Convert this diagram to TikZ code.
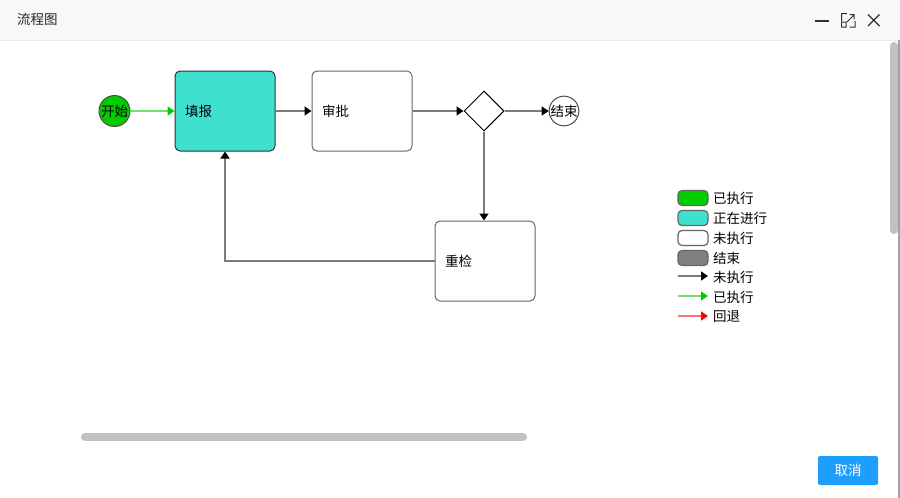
\documentclass[tikz,border=0pt]{standalone}
\usepackage{fontspec}
\setmainfont{Noto Sans CJK SC}
\usetikzlibrary{arrows.meta,shapes.geometric}

\definecolor{linegray}{HTML}{7A7A7A}
\definecolor{boxgray}{HTML}{666666}
\definecolor{donegreen}{HTML}{00CC00}
\definecolor{donelight}{HTML}{6FE06F}
\definecolor{busyturq}{HTML}{40E0D0}
\definecolor{backred}{HTML}{FF0000}
\definecolor{backlight}{HTML}{FF7070}
\definecolor{barbg}{HTML}{F8F8F8}
\definecolor{barline}{HTML}{EBEBEB}
\definecolor{scrollgray}{HTML}{C1C1C1}
\definecolor{btnblue}{HTML}{1E9FFF}
\definecolor{icongray}{HTML}{2F2F3F}

\newcommand{\txt}{\fontsize{13.5}{16}\selectfont}

\tikzset{
  task/.style={draw=boxgray, line width=1pt, rounded corners=5pt, fill=white,
    minimum height=80pt, text width=80pt, inner xsep=10pt, align=left, font=\txt},
  busy/.style={task, fill=busyturq, draw=black!80},
  event/.style={circle, draw=black!70, line width=1pt, minimum size=#1, inner sep=0pt, font=\txt},
  gate/.style={diamond, draw=black, line width=1pt, minimum width=40pt, minimum height=40pt, inner sep=0pt},
  flow/.style={draw=linegray, line width=1.4pt, -{Triangle[length=7pt,width=9pt,color=black]}},
  doneflow/.style={draw=donelight, line width=1.4pt, -{Triangle[length=7pt,width=9pt,color=donegreen]}},
  backflow/.style={draw=backlight, line width=1.4pt, -{Triangle[length=7pt,width=9pt,color=backred]}},
  swatch/.style={draw=boxgray, line width=1.2pt, rounded corners=4pt, minimum width=30pt, minimum height=15pt, inner sep=0pt},
  legend/.style={anchor=west, inner sep=0pt, font=\txt},
  scroll/.style={line width=8pt, line cap=round, draw=scrollgray}
}

\begin{document}
\begin{tikzpicture}[x=1pt,y=-1pt]
\useasboundingbox (0,0) rectangle (900,498);
\fill[white] (0,0) rectangle (900,498);

% title bar
\fill[barbg] (0,0) rectangle (900,40);
\draw[barline] (0,40.5) -- (900,40.5);
\node[anchor=west, inner sep=0pt, font=\txt, text=black!85] (title) at (17,19) {流程图};
\draw[icongray, line width=2pt] (815,20.5) -- (829,20.5);
\draw[icongray, line width=1pt] (841.5,21) -- (841.5,13.5) -- (847,13.5)
  (849.5,27) -- (855,27) -- (855,21)
  (841.5,22) rectangle (846,27)
  (847,22) -- (854,15) (849.5,14.5) -- (854,14.5) -- (854,19);
\draw[icongray, line width=1.3pt] (868,14.5) -- (879.5,26) (879.5,14.5) -- (868,26);

% flow
\node[event=31pt, fill=donegreen] (start) at (114.5,111) {开始};
\node[busy] (fill) at (225,111) {填报};
\node[task] (approve) at (362,111) {审批};
\node[gate] (split) at (484,111) {};
\node[event=29pt, fill=white] (finish) at (564,111) {结束};
\node[task] (recheck) at (485,261) {重检};

\draw[doneflow] (start) -- (fill);
\draw[flow] (fill) -- (approve);
\draw[flow] (approve) -- (split);
\draw[flow] (split) -- (finish);
\draw[flow] (split.south) -- (split.south |- recheck.north);
\draw[flow] (recheck.west) -| (fill.south);

% legend
\node[swatch, fill=donegreen] (sw1) at (693,198) {};
\node[swatch, fill=busyturq] (sw2) at (693,218) {};
\node[swatch, fill=white] (sw3) at (693,238) {};
\node[swatch, fill=gray] (sw4) at (693,258) {};
\node[legend] (lg1) at (713,198) {已执行};
\node[legend] (lg2) at (713,218) {正在进行};
\node[legend] (lg3) at (713,238) {未执行};
\node[legend] (lg4) at (713,258) {结束};
\node[legend] (lg5) at (713,277) {未执行};
\node[legend] (lg6) at (713,297) {已执行};
\node[legend] (lg7) at (713,317) {回退};
\coordinate (a5) at (678,276); \coordinate (b5) at (708,276);
\coordinate (a6) at (678,296); \coordinate (b6) at (708,296);
\coordinate (a7) at (678,316); \coordinate (b7) at (708,316);
\draw[flow] (a5) -- (b5);
\draw[doneflow] (a6) -- (b6);
\draw[backflow] (a7) -- (b7);

% scrollbars, button
\draw[scroll] (85,437) -- (523,437);
\draw[scroll] (894,46) -- (894,230);
\draw[linegray!70, line width=1.5pt] (899.2,40) -- (899.2,498);
\node[fill=btnblue, rounded corners=2pt, minimum width=60pt, minimum height=29pt,
  text=white, font=\txt] (cancel) at (848,470.5) {取消};
\end{tikzpicture}
\end{document}
